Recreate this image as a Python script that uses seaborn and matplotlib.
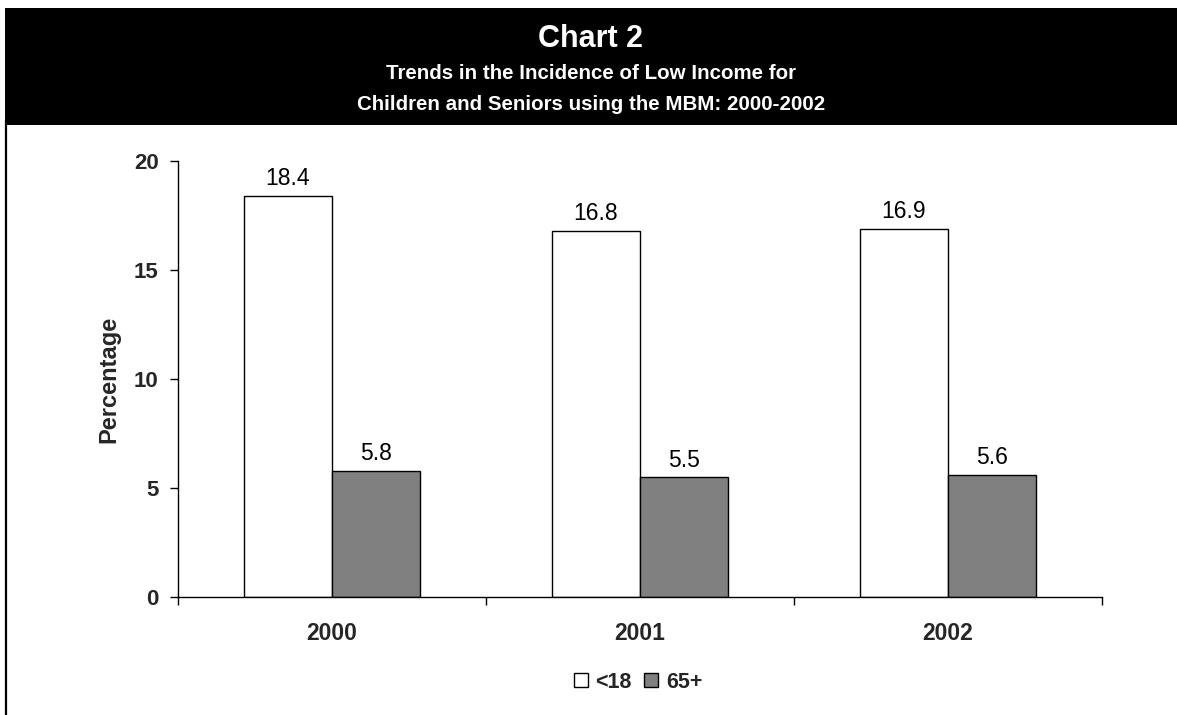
import matplotlib
matplotlib.use("Agg")
import matplotlib.pyplot as plt
from matplotlib.patches import Rectangle, Patch
from matplotlib.lines import Line2D
from matplotlib.ticker import FixedLocator
from matplotlib import font_manager
import pandas as pd
import seaborn as sns

# Incidence of low income (MBM), percent
years = ["2000", "2001", "2002"]
groups = ["<18", "65+"]
children = [18.4, 16.8, 16.9]
seniors = [5.8, 5.5, 5.6]
y_ticks = [0, 5, 10, 15, 20]

df = pd.DataFrame({
    "year": years * 2,
    "group": [groups[0]] * len(years) + [groups[1]] * len(years),
    "value": children + seniors,
})

sns.set_theme(style="white")
plt.rcParams["font.family"] = ["Liberation Sans", "DejaVu Sans"]

installed = {f.name for f in font_manager.fontManager.ttflist}
narrow = "Liberation Sans Narrow" if "Liberation Sans Narrow" in installed else None

W, H = 1177, 715
fig = plt.figure(figsize=(W / 100, H / 100), dpi=100)
fig.patch.set_facecolor("white")

# black title band and left frame line
fig.patches.append(Rectangle((5 / W, 1 - 125 / H), 1 - 5 / W, 117 / H,
                             transform=fig.transFigure, facecolor="black",
                             edgecolor="none", zorder=0))
fig.lines.append(Line2D([6 / W, 6 / W], [0, 1 - 120 / H], transform=fig.transFigure,
                        color="black", linewidth=1.6))

cx = 591 / W
fig.text(cx, 1 - 47 / H, "Chart 2", color="white", fontsize=22, fontweight="bold",
         ha="center", va="baseline")
if narrow:
    sub_kw = dict(family=[narrow, "Liberation Sans"], fontsize=17.5)
else:
    sub_kw = dict(fontsize=14.8)
fig.text(cx, 1 - 79 / H, "Trends in the Incidence of Low Income for", color="white",
         fontweight="bold", ha="center", va="baseline", **sub_kw)
fig.text(cx, 1 - 110 / H, "Children and Seniors using the MBM: 2000-2002", color="white",
         fontweight="bold", ha="center", va="baseline", **sub_kw)

ax = fig.add_axes([178 / W, 1 - 597 / H, (1102 - 178) / W, (597 - 161) / H])
ax.set_facecolor("white")

sns.barplot(data=df, x="year", y="value", hue="group", hue_order=groups,
            palette=["white", "#808080"], edgecolor="black", linewidth=1,
            saturation=1, width=0.572, gap=0, errorbar=None, legend=False, ax=ax)

for cont in ax.containers:
    ax.bar_label(cont, fmt="%.1f", padding=4, fontsize=16.5, color="black")

ax.set_xlim(-0.5, len(years) - 0.5)
ax.set_ylim(0, 20)
ax.set_yticks(y_ticks)
ax.set_yticklabels([str(t) for t in y_ticks], fontsize=16, fontweight="bold")
ax.set_xticks(range(len(years)))
ax.set_xticklabels(years, fontsize=16.5, fontweight="bold")
ax.xaxis.set_minor_locator(FixedLocator([i - 0.5 for i in range(len(years) + 1)]))

ax.tick_params(axis="y", which="major", direction="out", length=6, width=1,
               color="black", pad=8, left=True)
ax.tick_params(axis="x", which="major", length=0, pad=18)
ax.tick_params(axis="x", which="minor", direction="out", length=6, width=1,
               color="black", bottom=True)

for side in ("top", "right"):
    ax.spines[side].set_visible(False)
for side in ("left", "bottom"):
    ax.spines[side].set_color("black")
    ax.spines[side].set_linewidth(1)

ax.set_xlabel("")
ax.set_ylabel("Percentage", fontsize=17, fontweight="bold")
ax.yaxis.set_label_coords(-(178 - 120) / (1102 - 178), 0.5)

handles = [Patch(facecolor="white", edgecolor="black", linewidth=1),
           Patch(facecolor="#808080", edgecolor="black", linewidth=1)]
fig.legend(handles, groups, loc="center", bbox_to_anchor=(638 / W, 1 - 682 / H),
           ncol=2, frameon=False, prop={"size": 15.5, "weight": "bold"},
           handlelength=0.65, handleheight=0.65, handletextpad=0.35,
           columnspacing=0.6)

fig.savefig("out.png", dpi=100, facecolor="white")
